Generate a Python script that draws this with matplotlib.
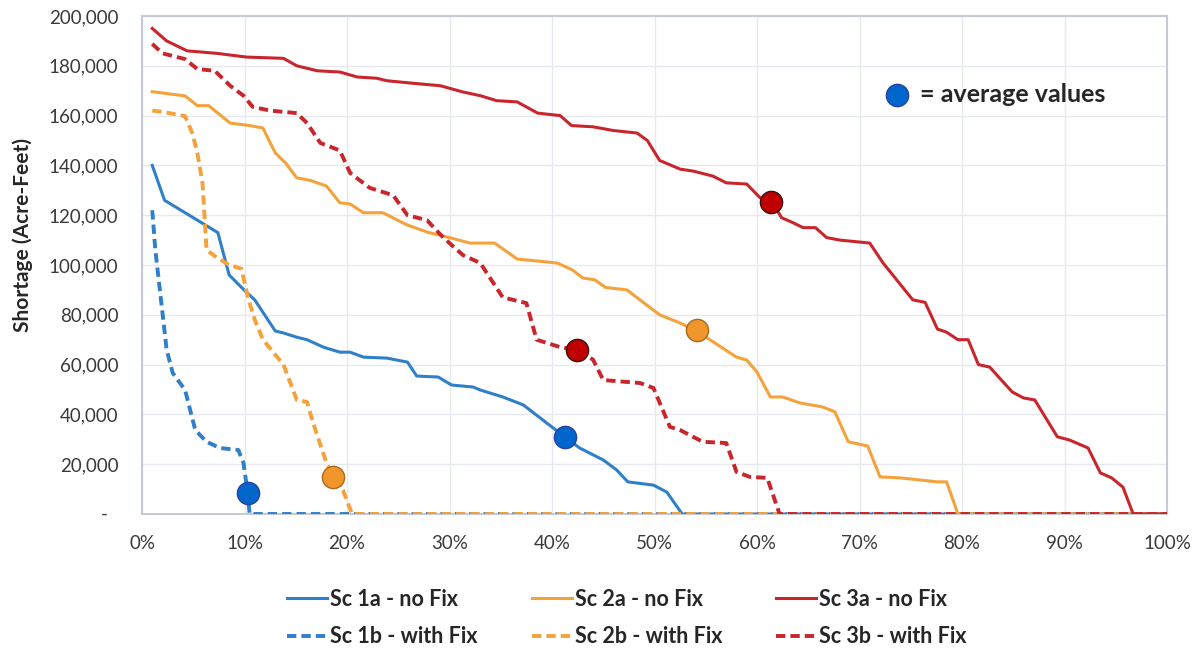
import matplotlib
matplotlib.use("Agg")
import matplotlib.pyplot as plt
from matplotlib.ticker import FuncFormatter, MultipleLocator

plt.rcParams['font.family'] = ['Lato', 'DejaVu Sans']

# Exceedance curves (x = % of years, y = shortage in acre-feet)
sc1a_x = [1, 2.2, 7.4, 8.5, 10.2, 11, 13, 13.8, 15.1, 16.1, 17.7, 19.3, 20.3, 21.6, 23.9, 25.9, 26.8,
          28.9, 30.2, 32.3, 33, 35.2, 37.2, 39.5, 41.4, 42.7, 45, 46.3, 47.4, 49.9, 51.2, 52.7, 100]
sc1a_y = [140000, 126000, 113000, 96000, 89000, 86000, 73500, 72700, 71000, 70000, 67000, 65000, 65000,
          63000, 62600, 61000, 55400, 55000, 51800, 51000, 49800, 47000, 43800, 36500, 30500, 26500,
          21700, 17700, 12900, 11600, 8800, 0, 0]

sc1b_x = [1, 1.3, 2, 2.4, 3, 4.2, 5.2, 6.3, 7.6, 9.4, 9.9, 10.3, 10.5, 100]
sc1b_y = [122000, 106000, 80700, 66000, 56600, 49800, 33700, 29000, 26500, 25700, 20500, 8800, 0, 0]

sc2a_x = [1, 4.2, 5.4, 6.5, 8.6, 10.5, 11.8, 13, 14, 15.1, 16.4, 18, 19.3, 20.3, 21.6, 23.5, 25.9,
          28, 30, 32, 34.4, 36.6, 40.5, 42, 43, 44.2, 45.2, 47.3, 50.5, 52.5, 54.1, 58, 59, 60, 61.3,
          62.5, 64.2, 66.4, 67.6, 68.9, 70.8, 72, 74, 77.6, 78.5, 79.6, 100]
sc2a_y = [169600, 167900, 164000, 164000, 157000, 156000, 155000, 145000, 141000, 135000, 134000,
          131700, 125000, 124500, 121000, 121000, 116000, 113000, 111000, 108800, 108800, 102400,
          100800, 98000, 94800, 94000, 91000, 90000, 80000, 76700, 73500, 63000, 61800, 57000, 47000,
          47000, 44600, 43000, 41000, 29000, 27300, 14900, 14500, 12900, 12900, 0, 0]

sc2b_x = [1, 2, 4.2, 4.9, 5.4, 5.9, 6.3, 7.3, 8.5, 9.7, 10.4, 11, 11.8, 13.8, 15.1, 16.1, 16.7, 18,
          18.7, 19.6, 20.5, 100]
sc2b_y = [162000, 161500, 159800, 153000, 145000, 133000, 106000, 103000, 100000, 98500, 86000,
          78000, 70000, 60000, 45800, 45000, 36500, 20500, 14900, 9600, 0, 0]

sc3a_x = [1, 2.4, 4.4, 7.3, 10.2, 13.8, 15.1, 17.1, 19.3, 21, 22.9, 23.9, 26.4, 29.1, 31.3, 33, 34.6,
          36.6, 38.6, 40.8, 41.9, 44, 46, 48.3, 49.3, 50.5, 52.5, 53.8, 55.7, 57, 59, 60.3, 61.4,
          62.4, 63.5, 64.5, 65.7, 66.8, 68.1, 71, 72.3, 75.2, 76.4, 77.6, 78.5, 79.6, 80.6, 81.6,
          82.7, 84.9, 86, 87.1, 89.3, 90.5, 92.3, 93.5, 94.6, 95.7, 96.7, 100]
sc3a_y = [195000, 190000, 186000, 185000, 183500, 183000, 180000, 178000, 177500, 175500, 175000,
          174000, 173000, 172000, 169500, 168000, 166000, 165500, 161000, 160000, 156000, 155500,
          154000, 153000, 150000, 142000, 138500, 137700, 135700, 133000, 132500, 127000, 125700,
          119000, 117000, 115000, 115000, 111000, 110000, 108800, 100800, 86000, 85000, 74300,
          73000, 70000, 70000, 60000, 59000, 49000, 46600, 45800, 31000, 29700, 26500, 16500,
          14500, 10800, 0, 0]

sc3b_x = [1, 2, 4.2, 5.4, 7.1, 8.6, 9.9, 10.8, 12.5, 15.1, 16.1, 17.4, 19.3, 20.3, 22.2, 24.5, 25.9,
          27.8, 29.4, 31.3, 33, 35.2, 37.5, 38.5, 40.8, 42.4, 44, 45, 48.6, 49.9, 51.5, 52.5, 54.7,
          57, 58, 59.3, 61, 62.2, 100]
sc3b_y = [188800, 185000, 182700, 178700, 178000, 172000, 168000, 163500, 162000, 161000, 157000,
          149000, 146000, 137000, 131000, 128000, 120000, 118000, 111000, 104000, 100800, 87000,
          84700, 70000, 67000, 66000, 62000, 53800, 52600, 50600, 35000, 33700, 29000, 28500,
          16900, 14900, 14500, 0, 0]

# average value markers
avg_x = [10.35, 18.6, 41.3, 42.4, 54.1, 61.4]
avg_y = [8600, 15000, 30800, 66000, 74000, 125500]
avg_scen = ['1', '2', '1', '3', '2', '3']

labels = ['Sc 1a - no Fix', 'Sc 1b - with Fix', 'Sc 2a - no Fix', 'Sc 2b - with Fix',
          'Sc 3a - no Fix', 'Sc 3b - with Fix']

colores = {'1': '#2F7FC9', '2': '#F4A23C', '3': '#C8262C'}
marcador = {'1': ('#0066CC', '#2A3FA0'), '2': ('#F0962D', '#A86A1E'), '3': ('#C00000', '#3A1010')}

fig = plt.figure(figsize=(11.98, 6.49), dpi=100)
ax = fig.add_axes([142/1198, 1 - 514/649, (1167-142)/1198, (514-16)/649])

series = [(sc1a_x, sc1a_y, '1', '-'), (sc1b_x, sc1b_y, '1', '--'),
          (sc2a_x, sc2a_y, '2', '-'), (sc2b_x, sc2b_y, '2', '--'),
          (sc3a_x, sc3a_y, '3', '-'), (sc3b_x, sc3b_y, '3', '--')]
handles = []
for (xs, ys, sc, ls), lab in zip(series, labels):
    if ls == '-':
        h, = ax.plot(xs, ys, color=colores[sc], lw=2.2, label=lab, zorder=3)
    else:
        h, = ax.plot(xs, ys, color=colores[sc], lw=2.8, dashes=(2.4, 1.3), label=lab, zorder=3)
    handles.append(h)

for x, y, sc in zip(avg_x, avg_y, avg_scen):
    ax.plot(x, y, 'o', ms=16, mfc=marcador[sc][0], mec=marcador[sc][1], mew=1.0, zorder=5)

# leyenda del marcador
ax.plot(73.7, 168300, 'o', ms=16, mfc='#0066CC', mec='#2A3FA0', mew=1.0, zorder=5)
ax.text(75.9, 168300, '= average values', fontsize=18, fontweight='bold', color='#262626',
        va='center', ha='left')

ax.set_xlim(0, 100)
ax.set_ylim(0, 200000)
ax.xaxis.set_major_locator(MultipleLocator(10))
ax.yaxis.set_major_locator(MultipleLocator(20000))
ax.xaxis.set_major_formatter(FuncFormatter(lambda v, p: f"{v:.0f}%"))
ax.yaxis.set_major_formatter(FuncFormatter(lambda v, p: '' if v == 0 else f"{v:,.0f}"))
ax.tick_params(length=0, labelsize=13.5, colors='#3A3A3A')
ax.tick_params(axis='y', pad=17)
ax.tick_params(axis='x', pad=15)
# el cero se muestra como "-" (formato contable de Excel), un poco mas a la izquierda
ax.text(-0.033, 0, '-', transform=ax.transAxes, ha='right', va='center',
        fontsize=13.5, color='#3A3A3A')
ax.grid(True, color='#E6E9EF', lw=1.0, zorder=0)
ax.set_axisbelow(True)
for s in ax.spines.values():
    s.set_color('#C5CAD3')
    s.set_linewidth(1.5)

ax.set_ylabel('Shortage (Acre-Feet)', fontsize=15, fontweight='bold', color='#262626')
ax.yaxis.set_label_coords(-0.106, 0.56)

leg = fig.legend(handles=handles, ncol=3, loc='center', bbox_to_anchor=(627/1198, 1 - 618/649),
                 frameon=False, fontsize=15.5, handlelength=1.86, handletextpad=0.15,
                 columnspacing=2.5, labelspacing=0.78)
for t in leg.get_texts():
    t.set_fontweight('bold')
    t.set_color('#262626')

fig.savefig('out.png', dpi=100)
